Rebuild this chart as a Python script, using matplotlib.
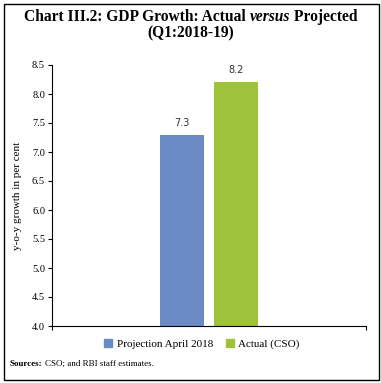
import matplotlib
matplotlib.use("Agg")
import matplotlib.pyplot as plt
from matplotlib.patches import Rectangle, Patch

# data
series = ["Projection April 2018", "Actual (CSO)"]
values = [7.3, 8.2]
colors = ["#6a8ac6", "#9ec23a"]
offsets = [-0.086, 0.086]
yticks = [4.0, 4.5, 5.0, 5.5, 6.0, 6.5, 7.0, 7.5, 8.0, 8.5]

serif = "Liberation Serif"
W, H = 381, 383
fig = plt.figure(figsize=(W / 100, H / 100), dpi=100)
renderer = fig.canvas.get_renderer()


def text_run(pieces, y, center=None, left=None, gap=0, **kw):
    # pieces: list of (string, fontweight, fontstyle); placed side by side
    objs = []
    widths = []
    for s, wgt, sty in pieces:
        t = fig.text(0, y, s, fontweight=wgt, fontstyle=sty, va="center",
                     ha="left", family=serif, **kw)
        widths.append(t.get_window_extent(renderer).width)
        objs.append(t)
    total = sum(widths) + gap * (len(objs) - 1)
    x = (center * W - total / 2) if center is not None else left * W
    for t, w in zip(objs, widths):
        t.set_x(x / W)
        x += w + gap


# outer border
fig.patches.append(Rectangle((3.5 / W, 3.5 / H), 375 / W, 376 / H,
                             transform=fig.transFigure, fill=False,
                             edgecolor="black", linewidth=1.0))

text_run([("Chart III.2: GDP Growth: Actual ", "bold", "normal"),
          ("versus", "bold", "italic"),
          (" Projected", "bold", "normal")], 1 - 17 / H, center=0.5, fontsize=11.2)
fig.text(0.5, 1 - 33 / H, "(Q1:2018-19)", ha="center", va="center",
         fontsize=11.2, fontweight="bold", family=serif)

ax = fig.add_axes([52 / W, 1 - 326 / H, 314 / W, 261 / H])
for v, c, off in zip(values, colors, offsets):
    ax.bar(off, v - 4.0, bottom=4.0, width=0.14, color=c)
    ax.text(off, v + 0.12, f"{v:.1f}", ha="center", va="bottom",
            fontsize=7, family="DejaVu Sans", color="#333333")

ax.set_xlim(-0.5, 0.5)
ax.set_ylim(4.0, 8.5)
ax.set_yticks(yticks)
ax.set_yticklabels([f"{t:.1f}" for t in yticks], family=serif, fontsize=7.5)
ax.set_xticks([-0.5, 0.5])
ax.set_xticklabels([])
ax.tick_params(axis="both", direction="out", length=3, width=0.8, pad=2)
ax.spines["top"].set_visible(False)
ax.spines["right"].set_visible(False)
for s in ("left", "bottom"):
    ax.spines[s].set_linewidth(0.8)
ax.set_ylabel("y-o-y growth in per cent", family=serif, fontsize=8, labelpad=7)

handles = [Patch(color=c) for c in colors]
fig.legend(handles, series, loc="center", bbox_to_anchor=(202 / W, 1 - 344 / H),
           ncol=2, frameon=False, prop={"family": serif, "size": 8},
           handlelength=0.7, handleheight=0.7, handletextpad=0.4, columnspacing=1.2)

text_run([("Sources:", "bold", "normal"),
          ("CSO; and RBI staff estimates.", "normal", "normal")],
         1 - 364 / H, left=10 / W, gap=2, fontsize=6.5)

fig.savefig("out.png", dpi=100)
